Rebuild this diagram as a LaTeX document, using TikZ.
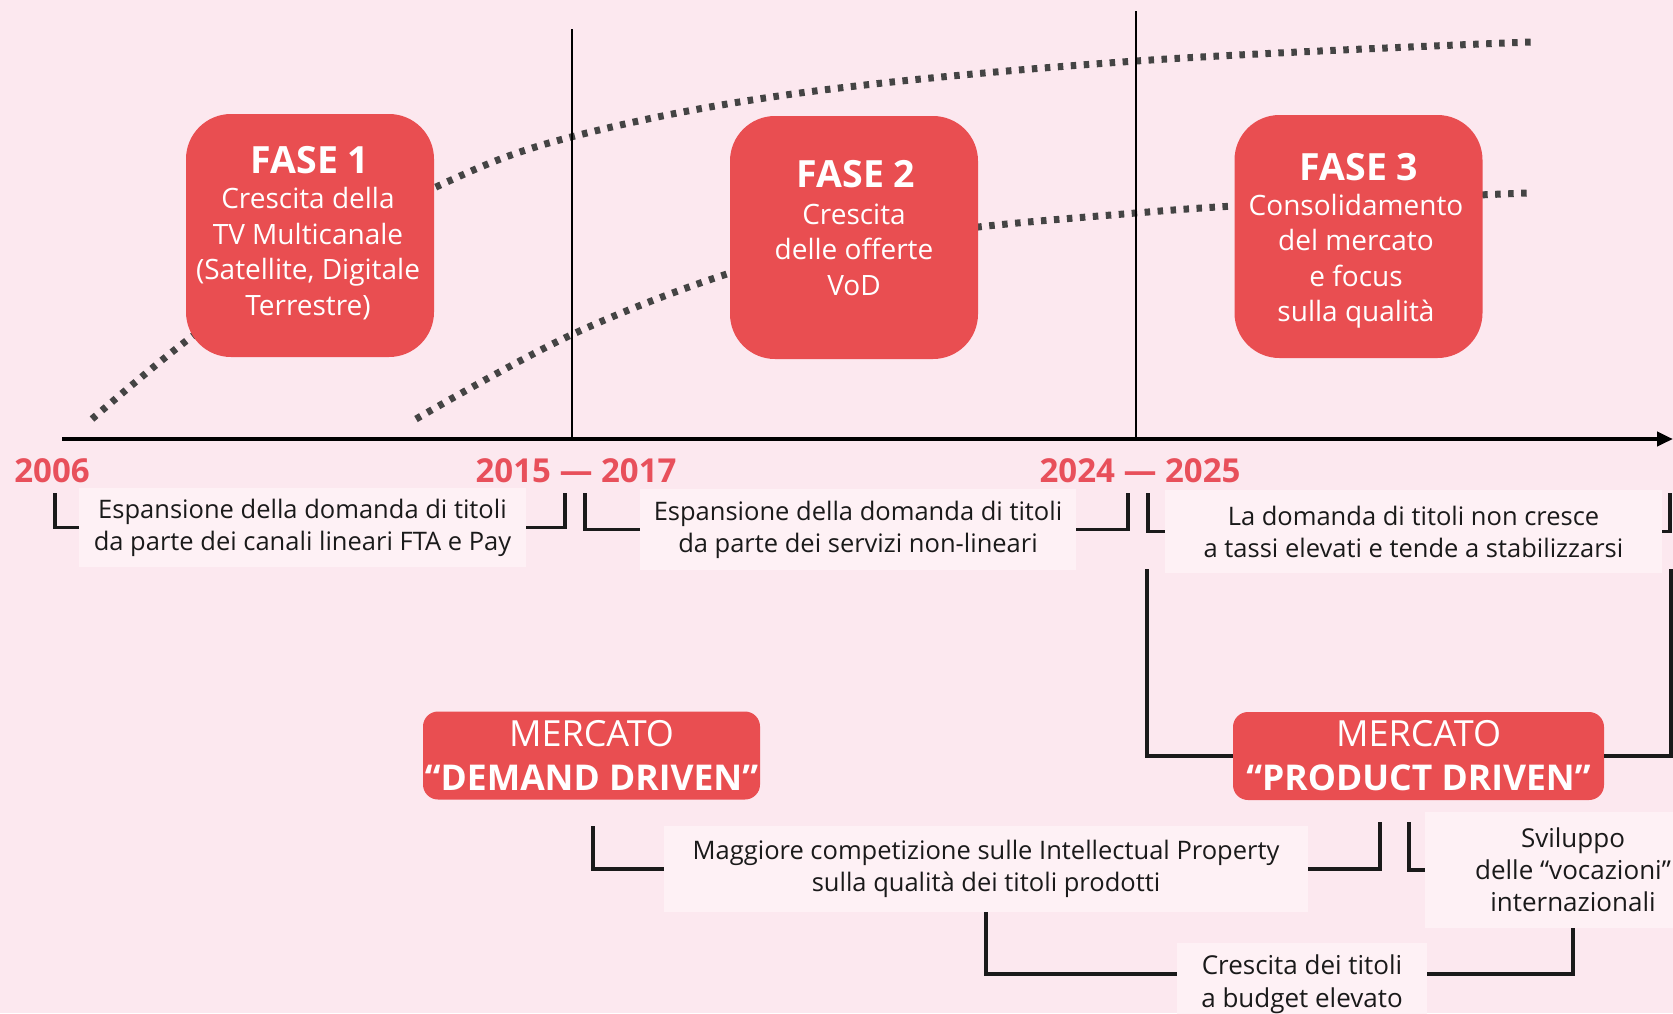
\documentclass[tikz,border=0pt]{standalone}
\usepackage{fontspec}
\setmainfont{Open Sans}
\usetikzlibrary{arrows.meta}
\definecolor{bg}{HTML}{FCE8EF}
\definecolor{lightbg}{HTML}{FEF1F5}
\definecolor{redbox}{HTML}{E94E51}
\definecolor{yearred}{HTML}{E8505B}
\definecolor{dotgray}{HTML}{444444}
\definecolor{ink}{HTML}{1A1A1A}
\begin{document}
\begin{tikzpicture}[x=1pt,y=-1pt,
  phase/.style={fill=redbox, rounded corners=45pt, minimum width=248pt, minimum height=243pt, inner sep=0pt},
  phasetitle/.style={text=white, inner sep=0pt, font=\fontsize{37.5}{40}\selectfont\bfseries},
  phasebody/.style={text=white, inner sep=0pt, align=center, font=\fontsize{28}{35.5}\selectfont},
  year/.style={text=yearred, inner sep=0pt, font=\fontsize{33}{36}\selectfont\bfseries},
  note/.style={fill=lightbg, inner sep=0pt, align=center, text=ink, font=\fontsize{25.5}{32}\selectfont},
  notebig/.style={note, font=\fontsize{26}{32.5}\selectfont},
  notetext/.style={inner sep=0pt, align=center, text=ink, font=\fontsize{26}{32}\selectfont},
  market/.style={fill=redbox, rounded corners=15pt, text=white, align=center, inner sep=0pt, minimum height=88pt, font=\fontsize{36}{44}\selectfont},
  bracket/.style={line width=3.5pt, draw=ink},
  dots/.style={draw=dotgray, line width=7pt, dash pattern=on 5.5pt off 7.5pt},
  axisline/.style={line width=4pt, draw=black, -{Triangle[length=16pt,width=14pt]}},
  vline/.style={line width=1.5pt, draw=black}
]
\useasboundingbox (0,0) rectangle (1673,1013);
\fill[bg] (0,0) rectangle (1673,1013);

% dotted growth curves
\draw[dots] plot[smooth, tension=0.6] coordinates {(92,419) (190,338) (300,262) (436,187) (571,137) (800,93) (1136,61) (1531,42)};
\draw[dots] plot[smooth, tension=0.6] coordinates {(416,419) (571,335) (730,273) (850,245) (978,227) (1136,213) (1234,206) (1360,200) (1527,193)};

% vertical separators and axis
\coordinate (v1top) at (572,29);
\coordinate (v1bot) at (572,439);
\coordinate (v2top) at (1136,11);
\coordinate (v2bot) at (1136,439);
\draw[vline] (v1top) -- (v1bot);
\draw[vline] (v2top) -- (v2bot);
\coordinate (axstart) at (62,439);
\coordinate (axend) at (1673,439);
\draw[axisline] (axstart) -- (axend);

% phase boxes
\node[phase] (f1) at (310,235.5) {};
\node[phasetitle] (f1t) at (310,160) {FASE 1};
\node[phasebody] (f1b) at (308,253.5) {Crescita della\\TV Multicanale\\(Satellite, Digitale\\Terrestre)};
\node[phase] (f2) at (854,237.5) {};
\node[phasetitle] (f2t) at (856,174) {FASE 2};
\node[phasebody] (f2b) at (854,249.7) {Crescita\\delle offerte\\VoD};
\node[phase] (f3) at (1358.5,236.5) {};
\node[phasetitle] (f3t) at (1359,167.5) {FASE 3};
\node[phasebody] (f3b) at (1356,261) {Consolidamento\\del mercato\\e focus\\sulla qualità};

% years
\node[year] (y1) at (52,471) {2006};
\node[year] (y2) at (576,471) {2015 — 2017};
\node[year] (y3) at (1140,471) {2024 — 2025};

% upper notes
\node[note, minimum width=447pt, minimum height=79pt] (t1) at (302.5,527.5) {Espansione della domanda di titoli\\da parte dei canali lineari FTA e Pay};
\node[note, minimum width=436pt, minimum height=81pt] (t2) at (858,529.5) {Espansione della domanda di titoli\\da parte dei servizi non-lineari};
\node[note, minimum width=497pt, minimum height=83pt] (t3) at (1413.5,531.5) {La domanda di titoli non cresce\\a tassi elevati e tende a stabilizzarsi};

\coordinate (b1l) at (55,493);
\coordinate (b1r) at (565,493);
\coordinate (b2l) at (585,493);
\coordinate (b2r) at (1128,493);
\coordinate (b3l) at (1148,493);
\coordinate (b3r) at (1670,493);
\draw[bracket] (b1l) |- (t1.west);
\draw[bracket] (b1r) |- (t1.east);
\draw[bracket] (b2l) |- (t2.west);
\draw[bracket] (b2r) |- (t2.east);
\draw[bracket] (b3l) |- (t3.west);
\draw[bracket] (b3r) |- (t3.east);

% market boxes
\node[market, minimum width=337pt] (dd) at (591.5,755.5) {MERCATO\\{\fontsize{35.5}{44}\selectfont\bfseries “DEMAND DRIVEN”}};
\node[market, minimum width=371pt] (pd) at (1418.5,756) {MERCATO\\{\fontsize{35.5}{44}\selectfont\bfseries “PRODUCT DRIVEN”}};

\coordinate (c3l) at (1147,569);
\coordinate (c3r) at (1671,569);
\draw[bracket] (c3l) |- (pd.west);
\draw[bracket] (c3r) |- (pd.east);

% lower notes
\node[note, minimum width=644pt, minimum height=86pt] (t4) at (986,869) {Maggiore competizione sulle Intellectual Property\\sulla qualità dei titoli prodotti};
\node[note, minimum width=248pt, minimum height=116pt] (t5) at (1549,870) {};
\node[notetext] (t5t) at (1573,870) {Sviluppo\\delle “vocazioni”\\internazionali};
\node[notebig, minimum width=250pt, minimum height=82pt] (t6) at (1302,984) {Crescita dei titoli\\a budget elevato};

\coordinate (b4l) at (593,826);
\coordinate (b4r) at (1380,822);
\coordinate (b5l) at (1409,822);
\draw[bracket] (b4l) |- (t4.west);
\draw[bracket] (b4r) |- (t4.east);
\draw[bracket] (b5l) |- (t5.west);
\draw[bracket] (t4.south) |- ([yshift=10pt]t6.west);
\draw[bracket] (t5t |- t5.south) |- ([yshift=10pt]t6.east);
\end{tikzpicture}
\end{document}
